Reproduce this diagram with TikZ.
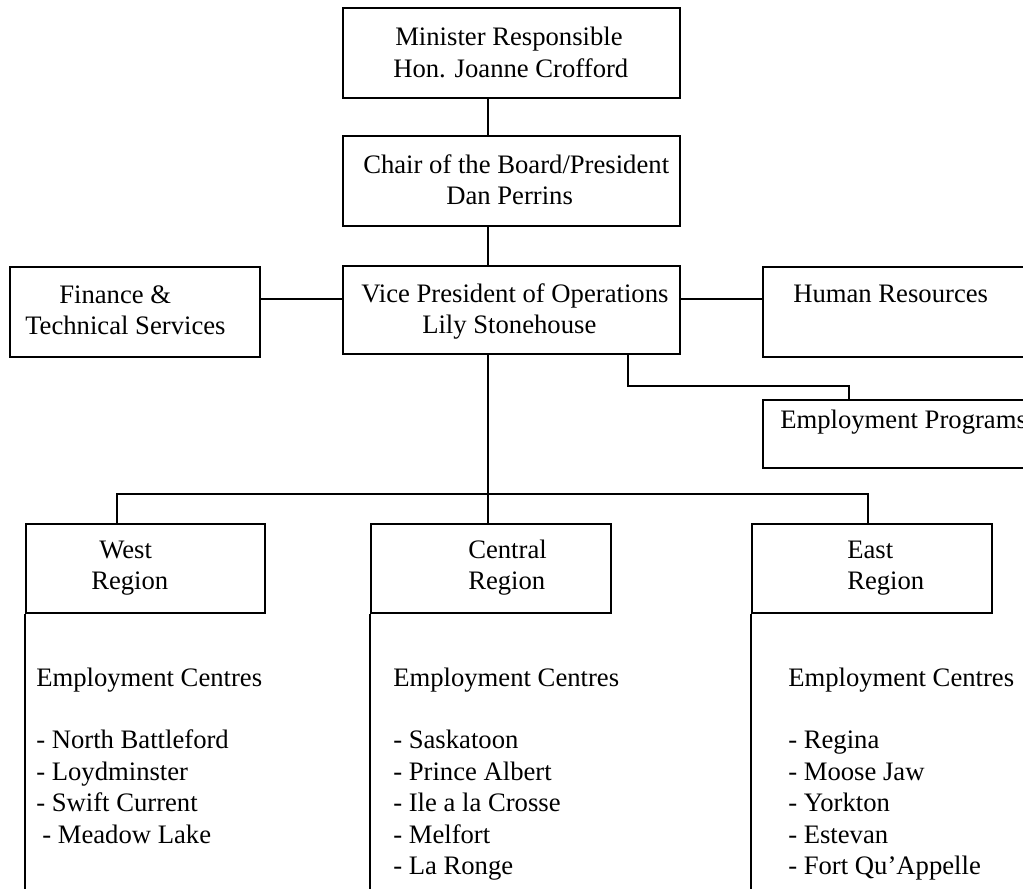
\documentclass[tikz,border=0pt]{standalone}
\usepackage{fontspec}
\setmainfont{Liberation Serif}
\usetikzlibrary{fit}
\begin{document}
\begin{tikzpicture}[x=0.75pt,y=-0.75pt,
  box/.style={draw,line width=1.5pt,inner sep=0pt,rectangle},
  link/.style={draw,line width=1.5pt},
  txt/.style={inner sep=0pt,anchor=base west,font=\fontsize{20}{23.6}\selectfont}]
\useasboundingbox (0,0) rectangle (1023,888);
\clip (0,0) rectangle (1023,888);
% boxes
\node[box, fit={(343,8) (680,98)}] (min) {};
\node[box, fit={(343,136) (680,226)}] (chair) {};
\node[box, fit={(343,266) (680,354)}] (vp) {};
\node[box, fit={(10,267) (260,357)}] (fin) {};
\node[box, fit={(763,267) (1040,357)}] (hr) {};
\node[box, fit={(763,400) (1040,468)}] (ep) {};
\node[box, fit={(26,524) (265,613)}] (west) {};
\node[box, fit={(371,524) (611,613)}] (central) {};
\node[box, fit={(752,524) (992,613)}] (east) {};
% helper coordinates
\coordinate (spine) at (488,0);
\coordinate (row) at (0,299);
\coordinate (epx) at (628,0);
\coordinate (epbend) at (849,386);
\coordinate (bus) at (488,494);
\coordinate (wdrop) at (117,0);
\coordinate (edrop) at (868,0);
\coordinate (bottom) at (0,900);
% connectors
\draw[link] (min.south -| spine) -- (chair.north -| spine);
\draw[link] (chair.south -| spine) -- (vp.north -| spine);
\draw[link] (fin.east |- row) -- (vp.west |- row);
\draw[link] (vp.east |- row) -- (hr.west |- row);
\draw[link] (vp.south -| epx) |- (epbend) -- (ep.north -| epbend);
\draw[link] (vp.south -| spine) -- (bus);
\draw[link] (west.north -| wdrop) |- (bus) -| (east.north -| edrop);
\draw[link] (bus) -- (central.north -| bus);
\draw[link] (west.south west) -- (west.south west |- bottom);
\draw[link] (central.south west) -- (central.south west |- bottom);
\draw[link] (east.south west) -- (east.south west |- bottom);
% texts
\node[txt] (mint) at (393,46) {\begin{tabular}[t]{@{}l@{}}\hspace*{1.5pt}Minister Responsible\\Hon. Joanne Crofford\end{tabular}};
\node[txt] (chairt) at (363,173) {\begin{tabular}[t]{@{}l@{}}Chair of the Board/President\\\hspace*{62.25pt}Dan Perrins\end{tabular}};
\node[txt] (vpt) at (361,302) {\begin{tabular}[t]{@{}l@{}}Vice President of Operations\\\hspace*{45.75pt}Lily Stonehouse\end{tabular}};
\node[txt] (fint) at (25,303) {\begin{tabular}[t]{@{}l@{}}\hspace*{25.5pt}Finance \&\\Technical Services\end{tabular}};
\node[txt] (hrt) at (793,302) {Human Resources};
\node[txt] (ept) at (780,428) {Employment Programs};
\node[txt] (westt) at (91,558) {\begin{tabular}[t]{@{}l@{}}\hspace*{6pt}West\\Region\end{tabular}};
\node[txt] (centralt) at (468,558) {\begin{tabular}[t]{@{}l@{}}Central\\Region\end{tabular}};
\node[txt] (eastt) at (847,558) {\begin{tabular}[t]{@{}l@{}}East\\Region\end{tabular}};
\node[txt] (westl) at (36,686) {\begin{tabular}[t]{@{}l@{}}Employment Centres\\ \\- North Battleford\\- Loydminster\\- Swift Current\\\hspace*{4.5pt}- Meadow Lake\end{tabular}};
\node[txt] (centrall) at (393,686) {\begin{tabular}[t]{@{}l@{}}Employment Centres\\ \\- Saskatoon\\- Prince Albert\\- Ile a la Crosse\\- Melfort\\- La Ronge\end{tabular}};
\node[txt] (eastl) at (788,686) {\begin{tabular}[t]{@{}l@{}}Employment Centres\\ \\- Regina\\- Moose Jaw\\- Yorkton\\- Estevan\\- Fort Qu’Appelle\end{tabular}};
\end{tikzpicture}
\end{document}
